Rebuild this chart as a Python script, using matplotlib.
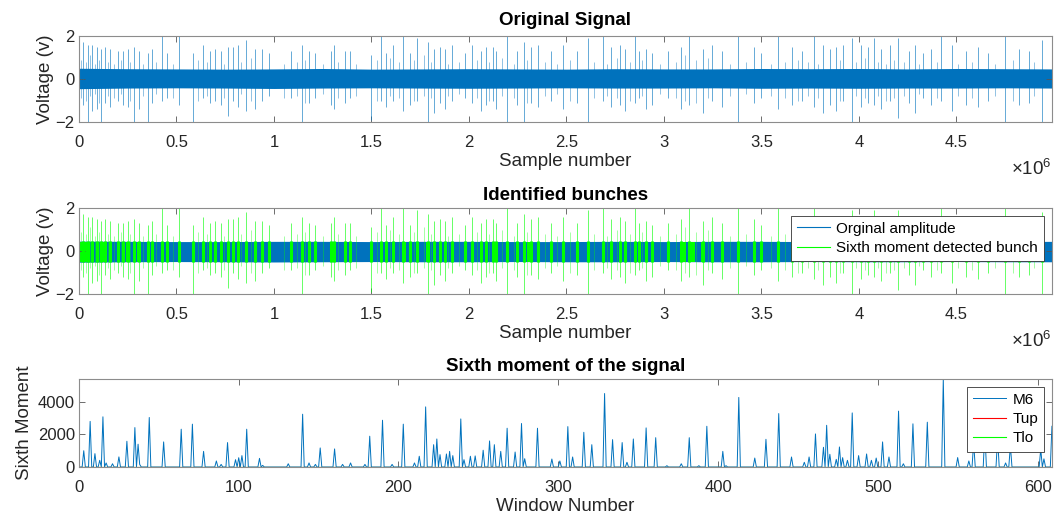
import numpy as np
import matplotlib.pyplot as plt
from matplotlib.lines import Line2D

plt.rcParams['font.family'] = ['Liberation Sans', 'DejaVu Sans']
plt.rcParams['mathtext.default'] = 'regular'

# ---- data ----
# noise band envelope of the raw signal (samples, volts)
band_x = [0, 250000, 500000, 750000, 1000000, 1250000, 1500000, 1750000, 2000000, 2250000,
          2500000, 2750000, 3000000, 3250000, 3500000, 3750000, 4000000, 4250000, 4500000,
          4750000, 4990000]
band_hi = [0.50, 0.48, 0.47, 0.46, 0.47, 0.49, 0.46, 0.47, 0.48, 0.47, 0.46, 0.48, 0.47,
           0.47, 0.49, 0.48, 0.49, 0.47, 0.49, 0.48, 0.47]
band_lo = [-0.45, -0.42, -0.41, -0.42, -0.44, -0.42, -0.41, -0.42, -0.43, -0.42, -0.41,
           -0.42, -0.42, -0.41, -0.43, -0.42, -0.43, -0.42, -0.42, -0.41, -0.42]
mid_hi = [0.46, 0.45, 0.44, 0.44, 0.45, 0.45, 0.44, 0.45, 0.45, 0.44, 0.44, 0.45, 0.44,
          0.45, 0.45, 0.44, 0.45, 0.44, 0.45, 0.44, 0.45]
mid_lo = [-0.52, -0.50, -0.49, -0.50, -0.51, -0.50, -0.49, -0.50, -0.50, -0.49, -0.50,
          -0.50, -0.49, -0.50, -0.50, -0.49, -0.50, -0.50, -0.49, -0.50, -0.50]

# big spikes (sample number, positive peak, negative peak)
spike_pos = [23000, 46000, 69000, 90000, 113000, 134000, 161000, 200000, 226000, 249000,
             280000, 306000, 352000, 373000, 426000, 454000, 514000, 585000, 638000, 670000,
             700000, 727000, 762000, 789000, 815000, 859000, 904000, 939000, 974000, 1089000,
             1142000, 1178000, 1213000, 1293000, 1310000, 1363000, 1390000, 1496000, 1549000,
             1576000, 1611000, 1664000, 1700000, 1735000, 1788000, 1823000, 1850000, 1876000,
             1911000, 1982000, 2018000, 2062000, 2088000, 2124000, 2141000, 2194000, 2247000,
             2283000, 2318000, 2353000, 2420000, 2480000, 2556000, 2610000, 2690000, 2730000,
             2776000, 2800000, 2850000, 2870000, 2910000, 2940000, 3020000, 3090000, 3130000,
             3200000, 3245000, 3300000, 3380000, 3460000, 3500000, 3586000, 3656000, 3710000,
             3770000, 3815000, 3850000, 3885000, 3920000, 3965000, 4010000, 4045000, 4080000,
             4115000, 4160000, 4200000, 4255000, 4290000, 4330000, 4370000, 4420000, 4480000,
             4550000, 4610000, 4660000, 4750000, 4820000, 4870000, 4940000]
spike_up = [1.7, 1.6, 1.6, 1.5, 1.4, 1.5, 1.4, 1.3, 1.3, 1.4,
            1.5, 1.3, 1.2, 1.4, 2.0, 1.2, 2.0, 1.2, 1.6, 1.3,
            1.4, 1.3, 1.5, 1.5, 1.6, 1.8, 1.4, 1.4, 1.2, 1.3,
            1.6, 1.3, 1.2, 1.3, 1.6, 1.3, 1.3, 1.1, 2.0,
            1.2, 1.6, 2.0, 1.2, 1.9, 1.7, 1.4, 1.5, 1.4,
            1.6, 1.2, 1.6, 1.3, 1.5, 1.5, 1.3, 2.0, 1.3,
            1.7, 1.5, 1.6, 1.3, 1.6, 1.3, 1.9, 2.0, 1.5,
            1.6, 1.4, 2.0, 1.3, 1.4, 1.2, 1.3, 1.5, 2.0,
            1.4, 1.6, 1.3, 2.0, 1.5, 1.2, 2.0, 1.5, 1.3,
            2.0, 1.6, 1.4, 1.5, 1.6, 1.9, 1.6, 1.5, 1.9,
            1.4, 1.6, 1.9, 1.3, 1.6, 1.2, 1.4, 2.0, 1.6,
            1.3, 1.5, 1.2, 2.0, 1.4, 1.3, 1.8]
spike_dn = [-1.2, -2.0, -1.5, -1.4, -2.0, -1.1, -1.3, -1.0, -1.2, -1.3,
            -2.0, -1.4, -2.0, -1.1, -1.0, -0.9, -1.2, -2.0, -0.9, -1.1,
            -1.0, -1.2, -1.7, -1.0, -1.3, -1.5, -1.4, -1.0, -0.8, -0.9,
            -2.0, -1.1, -0.9, -1.2, -1.4, -1.1, -0.9, -1.9, -1.0,
            -1.3, -1.0, -1.5, -1.2, -1.0, -2.0, -1.6, -1.1, -1.4,
            -1.0, -0.9, -1.1, -1.5, -1.2, -1.0, -1.4, -2.0, -1.2,
            -2.0, -1.1, -1.3, -1.0, -1.4, -1.1, -2.0, -1.0, -1.3,
            -1.2, -1.5, -1.1, -0.9, -1.4, -1.2, -0.9, -1.4, -1.2,
            -1.6, -1.0, -1.3, -2.0, -1.1, -0.9, -1.4, -1.2, -1.0,
            -1.3, -1.6, -1.2, -1.5, -1.0, -2.0, -1.3, -1.1, -1.2,
            -1.4, -1.0, -1.8, -1.1, -1.6, -0.9, -1.2, -1.0, -1.5,
            -1.2, -1.3, -1.0, -2.0, -1.2, -1.1, -2.0]

# small spikes just outside the noise band
small_pos = [12000, 35000, 58000, 80000, 102000, 148000, 182000, 215000, 262000, 330000,
             395000, 480000, 610000, 655000, 745000, 830000, 880000, 1050000, 1120000, 1160000,
             1250000, 1330000, 1420000, 1530000, 1595000, 1640000, 1720000, 1770000, 1805000,
             1895000, 1950000, 2040000, 2105000, 2170000, 2230000, 2300000, 2390000, 2450000,
             2520000, 2640000, 2710000, 2760000, 2825000, 2890000, 2980000, 3060000, 3110000,
             3165000, 3225000, 3340000, 3420000, 3550000, 3620000, 3690000, 3740000, 3790000,
             3905000, 3985000, 4030000, 4100000, 4140000, 4180000, 4230000, 4310000, 4400000,
             4510000, 4580000, 4700000, 4790000, 4900000]
small_up = [0.9, 0.8, 1.1, 0.7, 0.9, 0.8, 0.7, 0.9, 0.8, 0.7,
            0.8, 0.7, 0.9, 0.8, 0.7, 0.8, 1.0, 0.7, 0.8, 0.9,
            0.7, 0.8, 0.7, 0.9, 1.0, 0.8, 0.9, 1.1, 0.8,
            0.7, 0.8, 0.9, 0.8, 1.0, 0.7, 0.9, 0.8, 0.7,
            0.9, 0.8, 0.7, 1.0, 0.8, 0.9, 0.7, 0.8, 1.1,
            0.9, 1.0, 0.7, 0.8, 0.7, 0.8, 0.9, 0.8, 0.7,
            0.9, 0.8, 1.0, 0.8, 0.7, 0.9, 0.8, 0.7, 0.8,
            0.7, 0.8, 0.7, 0.9, 0.8]
small_dn = [-0.9, -1.0, -0.8, -0.7, -1.1, -0.8, -0.9, -0.7, -1.0, -0.8,
            -0.7, -0.9, -1.0, -0.8, -0.9, -0.7, -1.0, -0.9, -0.8, -1.1,
            -0.7, -0.9, -0.8, -1.0, -0.8, -0.9, -1.0, -0.8, -0.9,
            -0.8, -0.7, -0.9, -1.0, -0.8, -0.9, -1.1, -0.8, -0.7,
            -1.0, -0.9, -0.8, -0.9, -1.0, -0.8, -0.7, -0.9, -1.0,
            -1.1, -0.9, -0.8, -0.7, -0.8, -0.9, -1.0, -0.8, -0.9,
            -1.0, -0.8, -0.9, -0.8, -1.0, -0.9, -0.8, -0.7, -0.9,
            -0.8, -0.9, -0.8, -1.0, -0.8]

# bunches that fill the band with green (start, end sample)
bunch_start = [0, 30000, 95000, 120000, 240000, 275000, 300000, 1295000, 1660000, 1780000,
               2300000, 3095000, 3125000, 3190000]
bunch_end = [16000, 52000, 104000, 128000, 256000, 287000, 312000, 1318000, 1676000, 1796000,
             2326000, 3112000, 3160000, 3208000]

sample_ticks = [0, 500000, 1000000, 1500000, 2000000, 2500000, 3000000, 3500000, 4000000, 4500000]
sample_labels = ['0', '0.5', '1', '1.5', '2', '2.5', '3', '3.5', '4', '4.5']

# sixth moment per window (windows not listed are ~0)
n_windows = 610
m6_win = [3, 7, 10, 13, 15, 17, 21, 25, 30, 35, 37, 38, 44, 53, 64, 71, 78, 86, 89, 93,
          98, 100, 102, 105, 113, 115, 131, 140, 144, 148, 151, 160, 165, 170, 179, 182, 190, 196, 203, 210,
          213, 217, 222, 224, 226, 230, 232, 234, 239, 241, 245, 248, 253, 257, 260, 264, 268, 273, 277, 279,
          287, 296, 301, 306, 309, 316, 321, 329, 334, 340, 343, 347, 355, 361, 368, 377, 382, 388, 393, 403,
          405, 413, 423, 430, 438, 446, 454, 457, 461, 466, 468, 470, 474, 476, 478, 481, 484, 488, 493, 496,
          499, 503, 507, 513, 516, 522, 531, 541, 550, 557, 560, 567, 575, 580, 583, 602, 604, 609]
m6_val = [1000, 2800, 820, 410, 3080, 250, 200, 620, 1580, 2420, 1400, 160, 3040, 1540, 2320, 2630, 960, 370, 160, 1500,
          450, 570, 700, 2320, 530, 100, 200, 3240, 250, 160, 1170, 1110, 160, 250, 160, 1890, 2870, 160, 2630, 250,
          660, 3690, 1370, 1720, 760, 800, 960, 700, 2950, 450, 660, 680, 1030, 1600, 1370, 960, 2380, 920, 2670, 510,
          2380, 490, 370, 2480, 615, 2130, 1370, 4510, 1680, 1500, 290, 1720, 2400, 1800, 80, 200, 1800, 80, 2500, 960,
          80, 4270, 550, 1700, 3280, 615, 290, 615, 2030, 1210, 2560, 780, 470, 1230, 575, 410, 3320, 700, 800, 410,
          550, 1540, 615, 3430, 200, 2650, 2750, 5400, 580, 370, 1500, 2200, 1800, 250, 1300, 1100, 500, 2500]
t_up = 0
t_lo = 0

BLUE = '#0072BD'
GREEN = '#00FF00'
RED = '#FF0000'
TXT = '#262626'
FRAME = '#8c8c8c'

fig = plt.figure(figsize=(10.57, 5.17), dpi=100)
ax1 = fig.add_axes([0.0747, 0.764, 0.9205, 0.1663])
ax2 = fig.add_axes([0.0747, 0.4313, 0.9205, 0.1663])
ax3 = fig.add_axes([0.0747, 0.0967, 0.9205, 0.1702])


def style(ax):
    for s in ax.spines.values():
        s.set_color(FRAME)
        s.set_linewidth(0.8)
    ax.tick_params(direction='in', top=True, right=True, length=4, width=0.6,
                   color='#555555', labelcolor=TXT, labelsize=12)
    ax.tick_params(axis='x', pad=9)
    ax.tick_params(axis='y', pad=3)


def legend(ax, handles, labels):
    lg = ax.legend(handles, labels, loc='upper right', fontsize=11, fancybox=False,
                   framealpha=1, edgecolor='#333333', borderaxespad=0.5, handlelength=2.2,
                   labelspacing=0.35, borderpad=0.4, handletextpad=0.4)
    lg.get_frame().set_linewidth(0.6)


# ---- top: original signal ----
ax1.fill_between(band_x, band_lo, band_hi, color=BLUE, lw=0)
ax1.vlines(small_pos, small_dn, small_up, color=BLUE, lw=0.5, alpha=0.6)
ax1.vlines(spike_pos, spike_dn, spike_up, color=BLUE, lw=0.6, alpha=0.7)
ax1.set_xlim(0, 4990000)
ax1.set_ylim(-2, 2)
ax1.set_yticks([-2, 0, 2])
ax1.set_xticks(sample_ticks)
ax1.set_xticklabels(sample_labels)
ax1.set_title('Original Signal', fontsize=13.5, fontweight='bold', color='black', pad=8)
ax1.set_xlabel('Sample number', fontsize=13.5, color=TXT, labelpad=2.5)
ax1.set_ylabel('Voltage (v)', fontsize=13.5, color=TXT, labelpad=1)
ax1.text(1.0, -0.55, r'$\times10^{6}$', transform=ax1.transAxes, ha='right', va='center',
         fontsize=13.5, color=TXT)
style(ax1)

# ---- middle: identified bunches ----
ax2.fill_between(band_x, mid_lo, mid_hi, color=BLUE, lw=0)
for s, e in zip(bunch_start, bunch_end):
    ax2.axvspan(s, e, ymin=0.375, ymax=0.61, color=GREEN, lw=0)
ax2.vlines(small_pos, small_dn, small_up, color=GREEN, lw=0.5, alpha=0.5)
ax2.vlines(spike_pos, spike_dn, spike_up, color=GREEN, lw=0.6, alpha=0.7)
ax2.vlines(spike_pos, mid_lo[0], mid_hi[0], color=GREEN, lw=2.2)
ax2.set_xlim(0, 4990000)
ax2.set_ylim(-2, 2)
ax2.set_yticks([-2, 0, 2])
ax2.set_xticks(sample_ticks)
ax2.set_xticklabels(sample_labels)
ax2.set_title('Identified bunches', fontsize=13.5, fontweight='bold', color='black', pad=6)
ax2.set_xlabel('Sample number', fontsize=13.5, color=TXT, labelpad=2.5)
ax2.set_ylabel('Voltage (v)', fontsize=13.5, color=TXT, labelpad=1)
ax2.text(1.0, -0.55, r'$\times10^{6}$', transform=ax2.transAxes, ha='right', va='center',
         fontsize=13.5, color=TXT)
legend(ax2, [Line2D([], [], color=BLUE, lw=0.8), Line2D([], [], color=GREEN, lw=0.8)],
       ['Orginal amplitude', 'Sixth moment detected bunch'])
style(ax2)

# ---- bottom: sixth moment ----
m6 = np.zeros(n_windows)
m6[m6_win] = m6_val
win = np.arange(n_windows)
l1, = ax3.plot(win, m6, color=BLUE, lw=0.7)
l2, = ax3.plot(win, np.full(n_windows, t_up), color=RED, lw=0.8)
l3, = ax3.plot(win, np.full(n_windows, t_lo), color=GREEN, lw=0.8)
ax3.set_xlim(0, 609)
ax3.set_ylim(0, 5400)
ax3.set_yticks([0, 2000, 4000])
ax3.set_xticks([0, 100, 200, 300, 400, 500, 600])
ax3.set_title('Sixth moment of the signal', fontsize=13.5, fontweight='bold', color='black', pad=6)
ax3.set_xlabel('Window Number', fontsize=13.5, color=TXT, labelpad=2.5)
ax3.set_ylabel('Sixth Moment', fontsize=13.5, color=TXT, labelpad=3)
legend(ax3, [l1, l2, l3], ['M6', 'Tup', 'Tlo'])
style(ax3)

fig.savefig('out.png', dpi=100)
